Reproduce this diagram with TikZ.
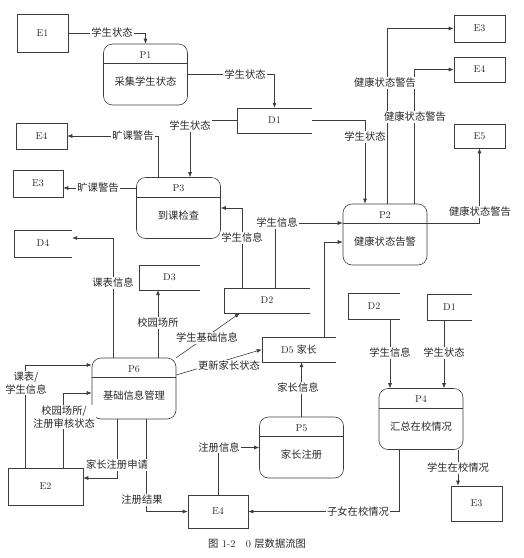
\documentclass[tikz,border=0pt]{standalone}
\usepackage{fontspec}
\usepackage{tikz}
\usetikzlibrary{arrows.meta,calc}
\newfontfamily\cjk{Noto Sans CJK SC}
\definecolor{inkline}{RGB}{60,60,60}
\definecolor{inktext}{RGB}{40,40,40}
\tikzset{
  entity/.style={rectangle,draw=inkline,line width=0.6pt,inner sep=0pt,font=\fontsize{10}{12}\selectfont,text=inktext},
  store/.style={rectangle,inner sep=0pt,font=\fontsize{10}{12}\selectfont,text=inktext},
  proc/.style={rectangle,rounded corners=9pt,draw=inkline,line width=0.6pt,minimum width=84pt,minimum height=61pt},
  pid/.style={font=\fontsize{10}{12}\selectfont,text=inktext},
  ptext/.style={font=\cjk\fontsize{10.3}{12}\selectfont,text=inktext},
  lbl/.style={fill=white,inner sep=1pt,font=\cjk\fontsize{10.3}{13}\selectfont,text=inktext,align=center},
  flow/.style={-{Latex[length=5pt,width=4pt]},draw=inkline,line width=0.6pt},
  rule/.style={draw=inkline,line width=0.6pt}
}
\newcommand{\procbox}[4]{%
  \node[proc] (#1) at (#2) {};
  \draw[rule] ([yshift=-20pt]#1.north west) -- ([yshift=-20pt]#1.north east);
  \node[pid] (#1-id) at ([yshift=-11pt]#1.north) {#3};
  \node[ptext] (#1-txt) at ([yshift=-38pt]#1.north) {#4};
}

\begin{document}
\begin{tikzpicture}[x=1pt,y=-1pt]
  \useasboundingbox (0,0) rectangle (524,558);
  % external entities
  \node[entity,minimum width=51pt,minimum height=38pt] (E1) at (42.5,33) {E1};
  \node[entity,minimum width=51pt,minimum height=26pt] (E4a) at (41.5,136) {E4};
  \node[entity,minimum width=50pt,minimum height=27pt] (E3a) at (38,183.5) {E3};
  \node[entity,minimum width=51pt,minimum height=27pt] (E3t) at (479.5,28.5) {E3};
  \node[entity,minimum width=51pt,minimum height=25pt] (E4t) at (479.5,69.5) {E4};
  \node[entity,minimum width=51pt,minimum height=24pt] (E5) at (479.5,136) {E5};
  \node[entity,minimum width=75pt,minimum height=37pt] (E2) at (45.5,486.5) {E2};
  \node[entity,minimum width=60pt,minimum height=33pt] (E4b) at (218,511.5) {E4};
  \node[entity,minimum width=51pt,minimum height=35pt] (E3b) at (476.5,503.5) {E3};
  % data stores
  \node[store,minimum width=75pt,minimum height=25pt] (D1) at (274.5,120.5) {D1};
  \node[store,minimum width=58pt,minimum height=27pt] (D4) at (43,243.5) {D4};
  \node[store,minimum width=61pt,minimum height=25pt] (D3) at (169.5,277.5) {D3};
  \node[store,minimum width=86pt,minimum height=25pt] (D2) at (267,300.5) {D2};
  \node[store,minimum width=74pt,minimum height=25pt] (D5) at (299,349.5) {D5 {\cjk 家长}};
  \node[store,minimum width=52pt,minimum height=26pt] (D2r) at (374,306) {D2};
  \node[store,minimum width=45pt,minimum height=26pt] (D1r) at (449.5,307) {D1};
  \foreach \s in {D1,D4,D3,D2,D5,D2r,D1r}
    \draw[rule] (\s.north east) -- (\s.north west) -- (\s.south west) -- (\s.south east);
  % processes
  \procbox{P1}{145.5,74.5}{P1}{采集学生状态}
  \procbox{P3}{178.5,208}{P3}{到课检查}
  \procbox{P2}{385,234.5}{P2}{健康状态告警}
  \procbox{P6}{134,388.5}{P6}{基础信息管理}
  \procbox{P4}{421,419}{P4}{汇总在校情况}
  \procbox{P5}{301.5,447.5}{P5}{家长注册}
  % data flows
  \draw[flow] (E1.east) -| (P1.north);
  \draw[flow] (P1.east) -| (D1.north);
  \draw[flow] (D1.east) -| ([xshift=-20pt]P2.north);
  \draw[flow] (D1.west) -| ([xshift=11.5pt]P3.north);
  \draw[flow] ([xshift=-20.5pt]P3.north) |- (E4a.east);
  \draw[flow] ([yshift=20pt]P3.west) -- ([yshift=20pt]P3.west -| E3a.east);
  \draw[flow] ([xshift=-25pt]D2.north) |- (P3.east);
  \draw[flow] ([xshift=8pt]D2.north) |- ([yshift=11.5pt]P2.west);
  \draw[flow] ([xshift=25pt]D5.north) |- ([yshift=-7.5pt]P2.west);
  \draw[flow] ([xshift=2pt]P2.north) |- (E3t.west);
  \draw[flow] ([xshift=29pt]P2.north) |- (E4t.west);
  \draw[flow] ([yshift=11.5pt]P2.east) -| (E5.south);
  \draw[flow] ([xshift=-21pt]P6.north) |- ([yshift=5.5pt]D4.east);
  \draw[flow] ([xshift=24pt]P6.north) -- ([xshift=24pt]P6.north |- D3.south);
  \draw[flow] (P6.north east) -- ([xshift=16pt]D2.south west);
  \draw[flow] ([yshift=13.5pt]P6.east) -- (D5.west);
  \draw[flow] (P5.north) -- (P5.north |- D5.south);
  \draw[flow] (E4b.north) |- (P5.west);
  \draw[flow] ([xshift=-22pt]P4.south) |- (E4b.east);
  \draw[flow] ([xshift=37pt]P4.south) -- ([xshift=37pt]P4.south |- E3b.north);
  \draw[flow] ([xshift=16pt]D2r.south) -- ([xshift=16pt]D2r.south |- P4.north);
  \draw[flow] ([xshift=-5.5pt]D1r.south) -- ([xshift=-5.5pt]D1r.south |- P4.north);
  \draw[flow] ([xshift=-20.5pt]E2.north) |- ([yshift=23.5pt]P6.west);
  \draw[flow] ([xshift=17.5pt]E2.north) |- ([yshift=-4.5pt]P6.west);
  \draw[flow] ([xshift=-17pt]P6.south) |- ([yshift=8.5pt]E2.east);
  \draw[flow] ([xshift=12pt]P6.south) |- (E4b.west);
  % flow labels
  \node[lbl] (l-e1) at (112,33) {学生状态};
  \node[lbl] (l-p1) at (245,74.5) {学生状态};
  \node[lbl] (l-d1p2) at (365,137) {学生状态};
  \node[lbl] (l-d1p3) at (190,126) {学生状态};
  \node[lbl] (l-e4a) at (133,136) {旷课警告};
  \node[lbl] (l-e3a) at (98,188) {旷课警告};
  \node[lbl] (l-d2p3) at (242,238) {学生信息};
  \node[lbl] (l-d2p2) at (277,223) {学生信息};
  \node[lbl] (l-e3t) at (385,83) {健康状态警告};
  \node[lbl] (l-e4t) at (415,117) {健康状态警告};
  \node[lbl] (l-e5) at (480,212) {健康状态警告};
  \node[lbl] (l-d4) at (113,283) {课表信息};
  \node[lbl] (l-d3) at (158,323) {校园场所};
  \node[lbl] (l-d2) at (207,338) {学生基础信息};
  \node[lbl] (l-d5) at (229,366) {更新家长状态};
  \node[lbl] (l-p5) at (298,388) {家长信息};
  \node[lbl] (l-d2r) at (390,353) {学生信息};
  \node[lbl] (l-d1r) at (444,353) {学生状态};
  \node[lbl] (l-e3b) at (458,468) {学生在校情况};
  \node[lbl] (l-e4p4) at (358,511.5) {子女在校情况};
  \node[lbl] (l-e4p5) at (219,447.5) {注册信息};
  \node[lbl] (l-e2a) at (26,383) {课表/\\学生信息};
  \node[lbl] (l-e2b) at (64,417) {校园场所/\\注册审核状态};
  \node[lbl] (l-p6e2) at (117,465) {家长注册申请};
  \node[lbl] (l-p6e4) at (142,500) {注册结果};
  % caption
  \node[font=\fontsize{10.3}{12}\selectfont,text=inktext] (caption) at (257,544) {{\cjk 图} 1-2\quad 0 {\cjk 层数据流图}};
\end{tikzpicture}
\end{document}
